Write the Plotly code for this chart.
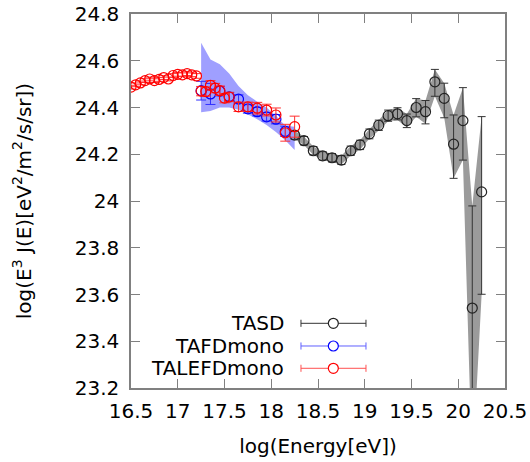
import plotly.graph_objects as go

# ---- TASD ----
tasd_x = [18.25, 18.35, 18.45, 18.55, 18.65, 18.75, 18.85, 18.95, 19.05, 19.15, 19.25,
          19.35, 19.45, 19.55, 19.65, 19.75, 19.85, 19.95, 20.05, 20.15, 20.25]
tasd_y = [24.282, 24.258, 24.215, 24.193, 24.185, 24.175, 24.215, 24.240, 24.287, 24.324, 24.365,
          24.373, 24.344, 24.400, 24.382, 24.510, 24.439, 24.243, 24.344, 23.542, 24.039]
tasd_ep = [0.018, 0.018, 0.018, 0.018, 0.018, 0.019, 0.020, 0.020, 0.021, 0.022, 0.024,
           0.026, 0.028, 0.038, 0.048, 0.053, 0.065, 0.125, 0.141, 0.437, 0.322]
tasd_em = [0.018, 0.018, 0.018, 0.018, 0.018, 0.019, 0.020, 0.020, 0.021, 0.022, 0.024,
           0.026, 0.030, 0.040, 0.052, 0.062, 0.083, 0.146, 0.169, 0.700, 0.438]

# ---- TAFDmono ----
tafd_x = [17.25, 17.35, 17.45, 17.55, 17.65, 17.75, 17.85, 17.95, 18.05, 18.15]
tafd_y = [24.472, 24.458, 24.470, 24.446, 24.436, 24.394, 24.382, 24.360, 24.350, 24.298]
tafd_e = [0.040, 0.045, 0.020, 0.018, 0.018, 0.018, 0.018, 0.018, 0.020, 0.022]
# systematic band of TAFDmono
band_x = [17.25, 17.35, 17.45, 17.55, 17.65, 17.75, 17.85, 17.95, 18.05, 18.15, 18.25]
band_hi = [24.677, 24.605, 24.585, 24.545, 24.492, 24.452, 24.425, 24.400, 24.365, 24.322, 24.318]
band_lo = [24.380, 24.385, 24.400, 24.400, 24.390, 24.370, 24.350, 24.325, 24.295, 24.260, 24.218]

# ---- TALEFDmono ----
tale_x = [16.50, 16.55, 16.60, 16.65, 16.70, 16.75, 16.80, 16.85, 16.90, 16.95, 17.00,
          17.05, 17.10, 17.15, 17.20, 17.25, 17.30, 17.35, 17.40, 17.45, 17.50, 17.55,
          17.65, 17.75, 17.85, 17.95, 18.05, 18.15, 18.25]
tale_y = [24.487, 24.497, 24.505, 24.515, 24.522, 24.515, 24.520, 24.528, 24.522, 24.537, 24.542,
          24.540, 24.545, 24.540, 24.535, 24.470, 24.468, 24.495, 24.483, 24.472, 24.440, 24.445,
          24.403, 24.403, 24.397, 24.389, 24.368, 24.292, 24.318]
tale_e = [0.008, 0.008, 0.008, 0.008, 0.008, 0.008, 0.008, 0.008, 0.008, 0.008, 0.008,
          0.008, 0.008, 0.008, 0.010, 0.020, 0.020, 0.020, 0.020, 0.020, 0.020, 0.020,
          0.020, 0.020, 0.025, 0.025, 0.030, 0.036, 0.045]

x_ticks = [16.5, 17, 17.5, 18, 18.5, 19, 19.5, 20, 20.5]
y_ticks = [23.2, 23.4, 23.6, 23.8, 24.0, 24.2, 24.4, 24.6, 24.8]
y_ticktext = ["23.2", "23.4", "23.6", "23.8", "24", "24.2", "24.4", "24.6", "24.8"]
x_ticktext = ["16.5", "17", "17.5", "18", "18.5", "19", "19.5", "20", "20.5"]

FONT = "DejaVu Sans"

fig = go.Figure()

# TASD band (error range)
tasd_hi = [y + e for y, e in zip(tasd_y, tasd_ep)]
tasd_lo = [y - e for y, e in zip(tasd_y, tasd_em)]
fig.add_trace(go.Scatter(x=tasd_x + tasd_x[::-1], y=tasd_hi + tasd_lo[::-1], fill="toself",
                         fillcolor="rgb(155,155,155)", line=dict(width=0), mode="lines",
                         hoverinfo="skip", showlegend=False))
# TAFD band
fig.add_trace(go.Scatter(x=band_x + band_x[::-1], y=band_hi + band_lo[::-1], fill="toself",
                         fillcolor="rgba(80,80,255,0.55)", line=dict(width=0), mode="lines",
                         hoverinfo="skip", showlegend=False))

fig.add_trace(go.Scatter(x=tasd_x, y=tasd_y, mode="markers", showlegend=False,
                         marker=dict(symbol="circle-open", size=10, color="#222222", line=dict(width=1.2)),
                         error_y=dict(type="data", symmetric=False, array=tasd_ep, arrayminus=tasd_em,
                                      color="#333333", thickness=1, width=4)))
fig.add_trace(go.Scatter(x=tafd_x, y=tafd_y, mode="markers", showlegend=False,
                         marker=dict(symbol="circle-open", size=10, color="#0000ff", line=dict(width=1.2)),
                         error_y=dict(type="data", array=tafd_e, color="#3030ff", thickness=1, width=5)))
fig.add_trace(go.Scatter(x=tale_x, y=tale_y, mode="markers", showlegend=False,
                         marker=dict(symbol="circle-open", size=10, color="#ff0000", line=dict(width=1.2)),
                         error_y=dict(type="data", array=tale_e, color="#ff3030", thickness=1, width=5)))

# manual legend (paper coordinates)
legend_names = ["TASD", "TAFDmono", "TALEFDmono"]
legend_colors = ["#333333", "#6060ff", "#ff5050"]
legend_mcolors = ["#222222", "#0000ff", "#ff0000"]
legend_rows = [0.173, 0.1123, 0.0527]
x0, x1, xc, xt = 0.4545, 0.6283, 0.541, 0.4144
cap = 0.0095
shapes = []
annotations = []
for name, lc, mc, yy in zip(legend_names, legend_colors, legend_mcolors, legend_rows):
    annotations.append(dict(x=xt, y=yy, xref="paper", yref="paper", text=name, showarrow=False,
                            xanchor="right", yanchor="middle", height=20,
                            font=dict(family=FONT, size=20, color="black")))
    shapes.append(dict(type="line", xref="paper", yref="paper", x0=x0, x1=x1, y0=yy, y1=yy,
                       line=dict(color=lc, width=1)))
    for xx in (x0, x1):
        shapes.append(dict(type="line", xref="paper", yref="paper", x0=xx, x1=xx, y0=yy - cap, y1=yy + cap,
                           line=dict(color=lc, width=1)))
    shapes.append(dict(type="circle", xref="paper", yref="paper", xsizemode="pixel", ysizemode="pixel",
                       xanchor=xc, yanchor=yy, x0=-5, x1=5, y0=-5, y1=5,
                       fillcolor="white", line=dict(color=mc, width=1.2)))

axis_common = dict(showgrid=False, zeroline=False, ticks="inside", ticklen=9, tickcolor="#808080",
                   tickwidth=1, showline=True, linecolor="#808080", linewidth=1.5, mirror="allticks",
                   ticklabeloverflow="allow",
                   tickfont=dict(family=FONT, size=20, color="black"))

fig.update_layout(
    width=530, height=462,
    margin=dict(l=131, r=25, t=14, b=74, autoexpand=False),
    plot_bgcolor="white", paper_bgcolor="white",
    font=dict(family=FONT, size=20, color="black"),
    xaxis=dict(range=[16.5, 20.5], tickmode="array", tickvals=x_ticks, ticktext=x_ticktext,
               ticklabelstandoff=4,
               title=dict(text="log(Energy[eV])", font=dict(family=FONT, size=20), standoff=17),
               **axis_common),
    yaxis=dict(range=[23.2, 24.8], tickmode="array", tickvals=y_ticks, ticktext=y_ticktext,
               ticklabelstandoff=6,
               title=dict(text="log(E<sup>3</sup> J(E)[eV<sup>2</sup>/m<sup>2</sup>/s/sr])",
                          font=dict(family=FONT, size=20), standoff=38),
               **axis_common),
    shapes=shapes, annotations=annotations,
)

fig.write_html("out.html", config={"displayModeBar": False},
               post_script="document.body.style.margin='0';document.body.style.overflow='hidden';")
